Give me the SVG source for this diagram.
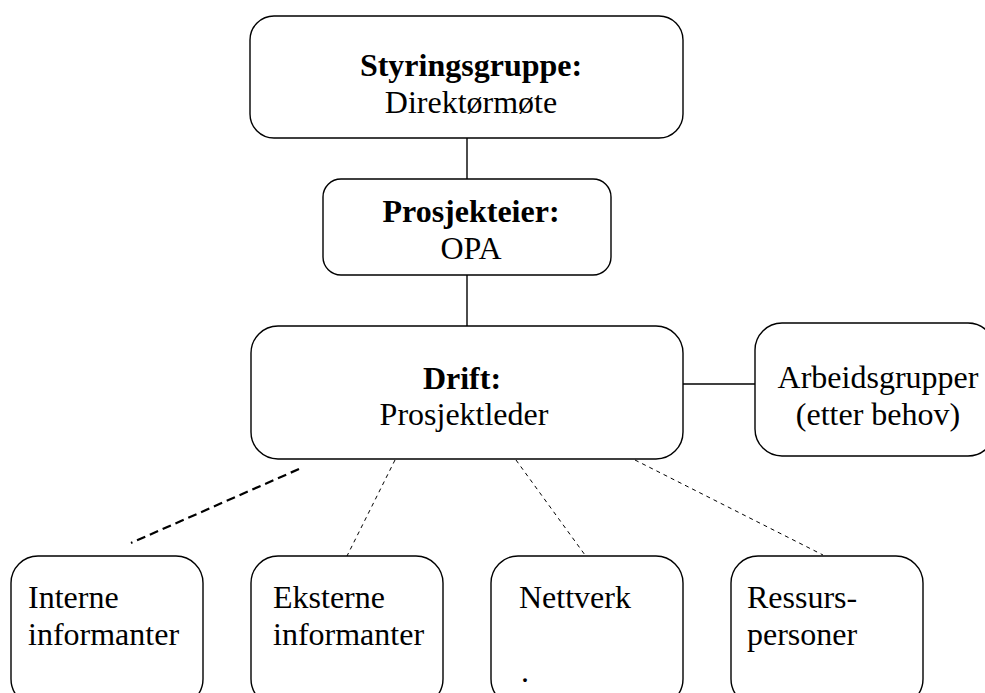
<svg xmlns="http://www.w3.org/2000/svg" width="985" height="693" viewBox="0 0 985 693">
<style>
.box{fill:#fff;stroke:#000;stroke-width:1.4}
text{font-family:'Liberation Serif','Times New Roman',Times,'DejaVu Serif',serif;font-size:32px;fill:#000}
.b{font-weight:bold}
.m{text-anchor:middle}
.solid{stroke:#000;stroke-width:1.4;fill:none}
.dash{stroke:#000;stroke-width:1;stroke-dasharray:4 4;fill:none}
.dashb{stroke:#000;stroke-width:2.2;stroke-dasharray:9 5;fill:none}
</style>
<rect width="985" height="693" fill="#fff"/>
<g id="connectors">
<line class="solid" x1="467" y1="138" x2="467" y2="179"/>
<line class="solid" x1="467" y1="275" x2="467" y2="326"/>
<line class="solid" x1="683" y1="384" x2="755" y2="384"/>
<line class="dashb" x1="299" y1="469" x2="131" y2="543"/>
<line class="dash" x1="395" y1="460" x2="347" y2="556"/>
<line class="dash" x1="516" y1="460" x2="585" y2="555"/>
<line class="dash" x1="635" y1="460" x2="823" y2="555"/>
</g>
<g id="styringsgruppe">
<rect class="box" x="250" y="16" width="433" height="122" rx="24"/>
<text class="b m" x="471" y="76">Styringsgruppe:</text>
<text class="m" x="471" y="113">Direktørmøte</text>
</g>
<g id="prosjekteier">
<rect class="box" x="323" y="179" width="288" height="96" rx="18"/>
<text class="b m" x="471" y="222">Prosjekteier:</text>
<text class="m" x="471" y="259">OPA</text>
</g>
<g id="drift">
<rect class="box" x="251" y="326" width="432" height="133" rx="27"/>
<text class="b m" x="462" y="389">Drift:</text>
<text class="m" x="464" y="425">Prosjektleder</text>
</g>
<g id="arbeidsgrupper">
<rect class="box" x="755" y="323" width="240" height="133" rx="27"/>
<text class="m" x="878" y="388">Arbeidsgrupper</text>
<text class="m" x="878" y="425">(etter behov)</text>
</g>
<g id="interne">
<rect class="box" x="11" y="556" width="192" height="150" rx="27"/>
<text x="28" y="608">Interne</text>
<text x="28" y="645">informanter</text>
</g>
<g id="eksterne">
<rect class="box" x="251" y="556" width="192" height="150" rx="27"/>
<text x="273" y="608">Eksterne</text>
<text x="273" y="645">informanter</text>
</g>
<g id="nettverk">
<rect class="box" x="491" y="556" width="192" height="150" rx="27"/>
<text x="519" y="608">Nettverk</text>
<text x="521" y="682">.</text>
</g>
<g id="ressurspersoner">
<rect class="box" x="731" y="556" width="192" height="150" rx="27"/>
<text x="747" y="608">Ressurs-</text>
<text x="747" y="645">personer</text>
</g>
</svg>
